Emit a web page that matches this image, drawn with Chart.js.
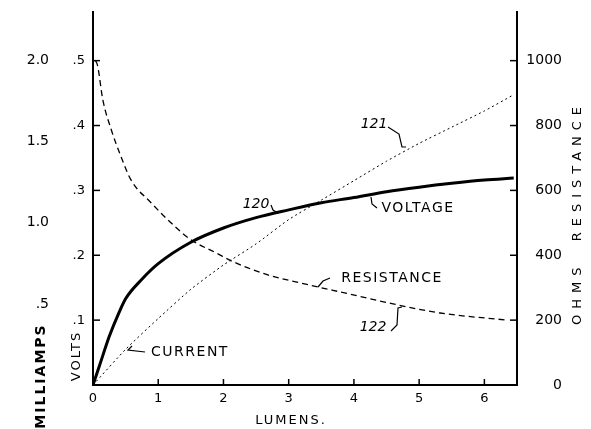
<!DOCTYPE html>
<html>
<head>
<meta charset="utf-8">
<script src="https://cdn.jsdelivr.net/npm/chart.js@4.4.0/dist/chart.umd.min.js"></script>
<style>
  html, body { margin: 0; padding: 0; background: #fff; }
  canvas { display: block; }
</style>
</head>
<body>
<canvas id="c" width="591" height="429"></canvas>
<script>
// --- data (x in lumens) ---
const voltLumens = [0, 0.1, 0.25, 0.4, 0.5, 0.75, 1.0, 1.5, 2.0, 2.5, 3.0, 3.5, 4.0, 4.5, 5.0, 5.5, 6.0, 6.45];
const voltValues = [0, 0.03, 0.075, 0.112, 0.133, 0.163, 0.187, 0.220, 0.242, 0.258, 0.270, 0.281, 0.289, 0.298, 0.305, 0.311, 0.316, 0.319];

const currentLumens = [0, 0.5, 1.0, 1.5, 2.0, 2.5, 3.0, 3.5, 4.0, 4.5, 5.0, 5.5, 6.0, 6.45];
const currentMilliamps = [0, 0.22, 0.41, 0.59, 0.74, 0.87, 1.02, 1.14, 1.26, 1.38, 1.49, 1.59, 1.69, 1.79];

const resLumens = [0.04, 0.07, 0.15, 0.28, 0.43, 0.58, 0.89, 1.26, 1.5, 1.89, 2.15, 2.67, 3.17, 3.99, 4.6, 5.32, 6.35];
const resOhms = [1000, 985, 880, 787, 704, 633, 562, 488, 448, 407, 380, 340, 315, 278, 250, 222, 200];

const lumenTicks = [0, 1, 2, 3, 4, 5, 6];

const pts = (xs, ys) => xs.map((x, i) => ({ x, y: ys[i] }));
const INK = '#000';
const F = '"DejaVu Sans", sans-serif';

// --- text: titles and callouts ---
function txt(ctx, s, x, y, font, spacing, rot) {
  ctx.save();
  ctx.translate(x, y);
  if (rot) ctx.rotate(rot);
  ctx.font = font;
  ctx.letterSpacing = (spacing || 0) + 'px';
  ctx.fillStyle = INK;
  ctx.textAlign = 'center';
  ctx.textBaseline = 'middle';
  ctx.fillText(s, 0, 0);
  ctx.restore();
}
function leader(ctx, p, w) {
  ctx.save();
  ctx.strokeStyle = INK;
  ctx.lineWidth = w || 1.2;
  ctx.beginPath();
  ctx.moveTo(p[0][0], p[0][1]);
  for (let i = 1; i < p.length; i++) ctx.lineTo(p[i][0], p[i][1]);
  ctx.stroke();
  ctx.restore();
}

// tick marks pointing into the plot, taken from each scale's own ticks
const inwardTicks = {
  id: 'inwardTicks',
  afterDraw(chart) {
    const ctx = chart.ctx;
    const s = chart.scales;
    const a = chart.chartArea;
    s.x.ticks.forEach(t => {
      if (t.value === 0) return;
      const px = s.x.getPixelForValue(t.value);
      leader(ctx, [[px, a.bottom], [px, a.bottom - 6]], 1.5);
    });
    s.volts.ticks.forEach(t => {
      if (t.value === 0) return;
      const py = s.volts.getPixelForValue(t.value);
      leader(ctx, [[a.left, py], [a.left + 7, py]], 1.5);
    });
    s.ohms.ticks.forEach(t => {
      if (t.value === 0) return;
      const py = s.ohms.getPixelForValue(t.value);
      leader(ctx, [[a.right, py], [a.right - 7, py]], 1.5);
    });
  }
};

const paper = {
  id: 'paper',
  beforeDraw(chart) {
    const ctx = chart.ctx;
    ctx.save();
    ctx.fillStyle = '#fff';
    ctx.fillRect(0, 0, chart.width, chart.height);
    ctx.restore();
  },
  afterDraw(chart) {
    const ctx = chart.ctx;
    // axis titles
    txt(ctx, 'MILLIAMPS', 41, 376, 'bold 14px ' + F, 2, -Math.PI / 2);
    txt(ctx, 'VOLTS', 77, 356, '13px ' + F, 2, -Math.PI / 2);
    txt(ctx, 'OHMS  RESISTANCE', 578, 213, '13px ' + F, 6, -Math.PI / 2);
    txt(ctx, 'LUMENS.', 291, 421, '13px ' + F, 2);
    // curve callouts
    txt(ctx, '120', 256, 204, 'italic 14px ' + F, 0);
    leader(ctx, [[271, 205], [273, 210], [278, 213]]);
    txt(ctx, 'VOLTAGE', 418, 208, '14px ' + F, 1.5);
    leader(ctx, [[371, 197], [372, 204], [377, 208]]);
    txt(ctx, '121', 374, 124, 'italic 14px ' + F, 0);
    leader(ctx, [[388, 127], [399, 134], [402, 147], [406, 147]]);
    txt(ctx, 'CURRENT', 190, 352, '14px ' + F, 1.5);
    leader(ctx, [[132, 346], [128, 350], [145, 352]]);
    txt(ctx, 'RESISTANCE', 392, 278, '14px ' + F, 1.5);
    leader(ctx, [[318, 287], [323, 281], [330, 278]]);
    txt(ctx, '122', 373, 327, 'italic 14px ' + F, 0);
    leader(ctx, [[391, 331], [397, 325], [398, 308], [402, 307]]);
  }
};

const tickFont = { family: F, size: 13 };
const bigTickFont = { family: F, size: 14 };
const fitY = w => s => { s.width = w; s.paddingTop = 0; s.paddingBottom = 0; };

new Chart(document.getElementById('c'), {
  type: 'line',
  data: {
    datasets: [
      {
        label: 'Voltage', yAxisID: 'volts', data: pts(voltLumens, voltValues),
        borderColor: INK, borderWidth: 3, pointRadius: 0, cubicInterpolationMode: 'monotone'
      },
      {
        label: 'Current', yAxisID: 'mA', data: pts(currentLumens, currentMilliamps),
        borderColor: INK, borderWidth: 1, borderDash: [2, 3], pointRadius: 0, tension: 0.2
      },
      {
        label: 'Resistance', yAxisID: 'ohms', data: pts(resLumens, resOhms),
        borderColor: INK, borderWidth: 1.3, borderDash: [6, 4], pointRadius: 0, cubicInterpolationMode: 'monotone'
      }
    ]
  },
  options: {
    responsive: false,
    animation: false,
    layout: { padding: { top: 12, right: 29, left: 0, bottom: 0 } },
    plugins: { legend: { display: false }, tooltip: { enabled: false } },
    scales: {
      x: {
        type: 'linear', min: 0, max: 6.5,
        afterBuildTicks: s => { s.ticks = lumenTicks.map(v => ({ value: v })); },
        ticks: { color: INK, font: tickFont, padding: 6, callback: v => String(v) },
        grid: { display: false, drawTicks: false },
        border: { color: INK, width: 2 },
        afterFit: s => { s.height = 44; s.paddingLeft = 0; s.paddingRight = 0; }
      },
      volts: {
        position: 'left', weight: 1, min: 0, max: 0.575,
        ticks: { stepSize: 0.1, includeBounds: false, color: INK, font: tickFont, padding: 8,
                 callback: v => v === 0 ? '' : '.' + Math.round(v * 10) },
        grid: { display: false, drawTicks: false },
        border: { color: INK, width: 2 },
        afterFit: fitY(41)
      },
      mA: {
        position: 'left', weight: 2, min: 0, max: 2.3,
        ticks: { stepSize: 0.5, includeBounds: false, color: INK, font: bigTickFont, padding: 3,
                 callback: v => v === 0 ? '' : (v < 1 ? '.5' : v.toFixed(1)) },
        grid: { display: false, drawTicks: false },
        border: { display: false },
        afterFit: fitY(52)
      },
      ohms: {
        position: 'right', min: 0, max: 1150,
        ticks: { stepSize: 200, includeBounds: false, color: INK, font: bigTickFont,
                 crossAlign: 'far', callback: v => String(v) },
        grid: { display: false, drawTicks: false },
        border: { color: INK, width: 2 },
        afterFit: fitY(45)
      }
    }
  },
  plugins: [paper, inwardTicks]
});
</script>
</body>
</html>
